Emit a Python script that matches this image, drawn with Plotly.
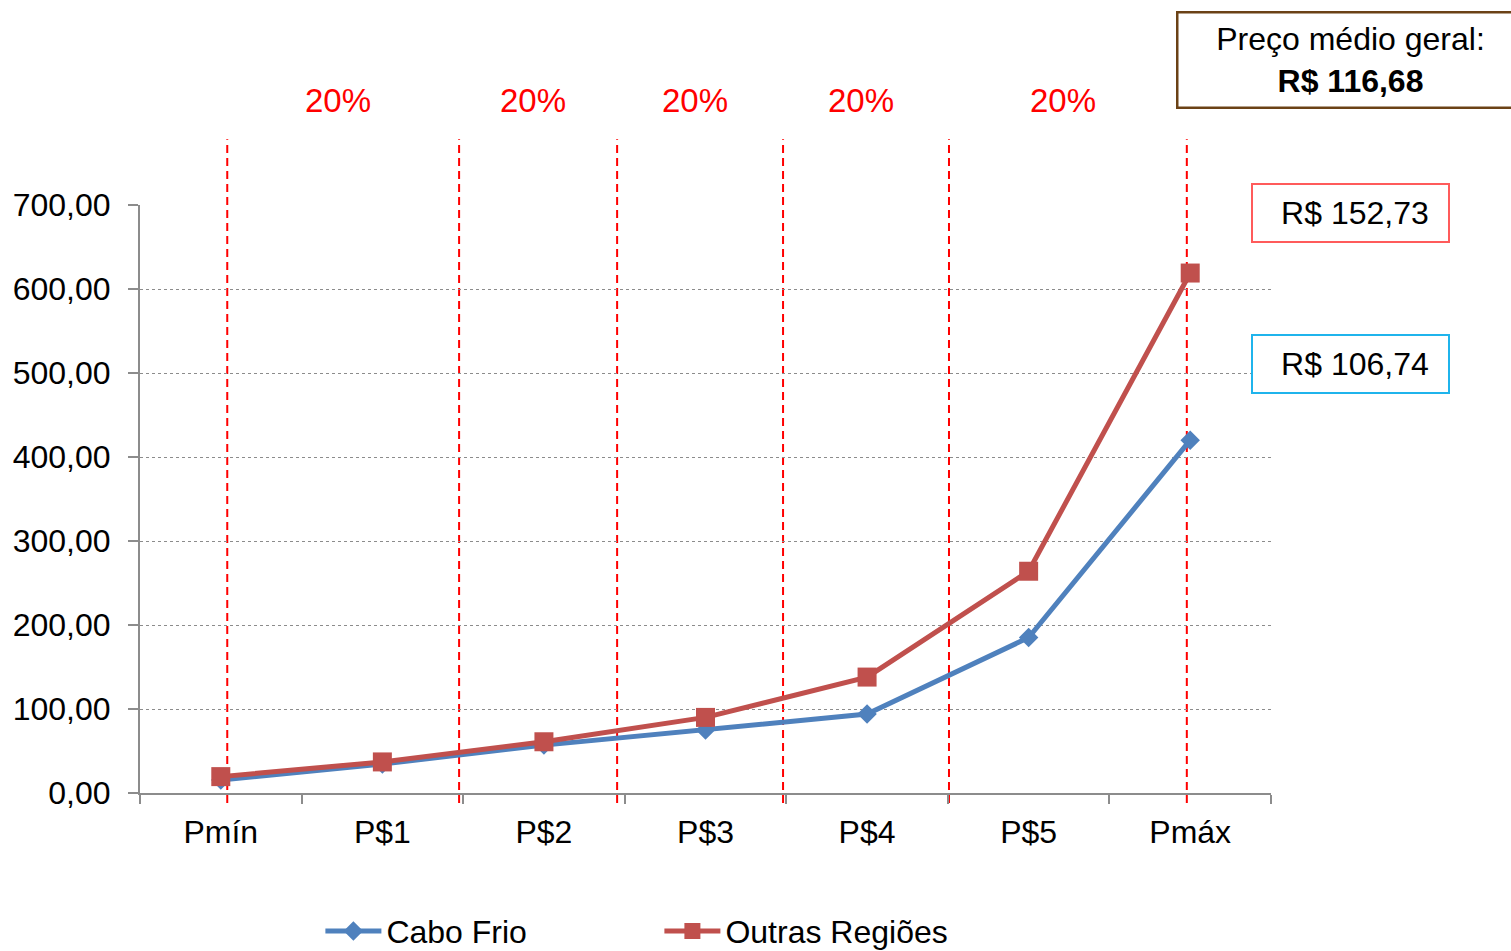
import plotly.graph_objects as go

# Price distribution by percentile band
categories = ["Pmín", "P$1", "P$2", "P$3", "P$4", "P$5", "Pmáx"]
cabo_frio = [15.5, 34.5, 57, 75, 94, 185, 420]
outras_regioes = [19.5, 37, 61, 90, 138, 264, 619]

# Percentile boundaries (in category units) and share of each band
band_edges = [0.04, 1.475, 2.453, 3.48, 4.507, 5.979]
band_shares = ["20%", "20%", "20%", "20%", "20%"]

preco_medio_geral = "R$ 116,68"
preco_medio_outras = "R$ 152,73"
preco_medio_cabo = "R$ 106,74"

FONT = "Liberation Sans, Arial, sans-serif"
BLUE = "#4F81BD"
RED = "#C0504D"
AXIS_GRAY = "#8C8C8C"
FS = 32

fig = go.Figure()

fig.add_trace(go.Scatter(
    x=categories, y=cabo_frio, name="Cabo Frio", mode="lines+markers",
    line=dict(color=BLUE, width=5),
    marker=dict(symbol="diamond", size=15, color=BLUE),
))
fig.add_trace(go.Scatter(
    x=categories, y=outras_regioes, name="Outras Regiões", mode="lines+markers",
    line=dict(color=RED, width=5),
    marker=dict(symbol="square", size=19, color=RED),
))

# dashed red percentile boundaries
for edge in band_edges:
    fig.add_shape(
        type="line", xref="x", yref="paper",
        x0=edge, x1=edge, y0=-0.017, y1=1.112,
        line=dict(color="#FF0000", width=2, dash="8px,5px"),
        layer="below",
    )

annotations = []
for i, share in enumerate(band_shares):
    mid = (band_edges[i] + band_edges[i + 1]) / 2
    annotations.append(dict(
        x=mid - 0.03, y=1.177, xref="x", yref="paper", yanchor="middle",
        text=share, showarrow=False,
        font=dict(family=FONT, size=33, color="#FF0000"),
    ))

annotations.append(dict(
    x=0.916, y=1.330, xref="paper", yref="paper", xanchor="left", yanchor="top",
    text=f"Preço médio geral:<br><b>{preco_medio_geral}</b>",
    showarrow=False, align="center",
    font=dict(family=FONT, size=FS, color="#000000"),
    bordercolor="#6B4216", borderwidth=2.5, borderpad=0,
    width=344, height=93, bgcolor="#FFFFFF",
))
annotations.append(dict(
    x=0.9823, y=1.0374, xref="paper", yref="paper", xanchor="left", yanchor="top",
    text="\u00a0" + preco_medio_outras, showarrow=False,
    font=dict(family=FONT, size=FS, color="#000000"),
    bordercolor="#FF5B5B", borderwidth=2, borderpad=0,
    width=195, height=56, bgcolor="#FFFFFF",
))
annotations.append(dict(
    x=0.9823, y=0.7806, xref="paper", yref="paper", xanchor="left", yanchor="top",
    text="\u00a0" + preco_medio_cabo, showarrow=False,
    font=dict(family=FONT, size=FS, color="#000000"),
    bordercolor="#1FB4EC", borderwidth=2, borderpad=0,
    width=195, height=56, bgcolor="#FFFFFF",
))

fig.update_layout(
    width=1511, height=951,
    margin=dict(l=140, r=240, t=205, b=158, autoexpand=False),
    paper_bgcolor="#FFFFFF", plot_bgcolor="#FFFFFF",
    separators=",.",
    font=dict(family=FONT, size=FS, color="#000000"),
    showlegend=True,
    legend=dict(
        orientation="h", x=0.1595, y=-0.235, xanchor="left", yanchor="middle",
        font=dict(family=FONT, size=FS), entrywidth=268, entrywidthmode="pixels",
        itemwidth=56, bgcolor="rgba(0,0,0,0)",
    ),
    annotations=annotations,
)

fig.update_xaxes(
    type="category", range=[-0.5, 6.5],
    showline=True, linecolor=AXIS_GRAY, linewidth=2,
    ticks="outside", tickson="boundaries", ticklen=9, tickcolor=AXIS_GRAY, tickwidth=2,
    showgrid=False, zeroline=False, ticklabelstandoff=10,
    tickfont=dict(family=FONT, size=FS, color="#000000"),
)
fig.update_yaxes(
    range=[0, 700], dtick=100, tickformat=".2f",
    showline=True, linecolor=AXIS_GRAY, linewidth=2,
    ticks="outside", ticklen=10, tickcolor=AXIS_GRAY, tickwidth=2,
    showgrid=True, gridcolor=AXIS_GRAY, gridwidth=1, griddash="dot",
    zeroline=False, ticklabelstandoff=11,
    tickfont=dict(family=FONT, size=FS, color="#000000"),
)

fig.write_html("out.html")
